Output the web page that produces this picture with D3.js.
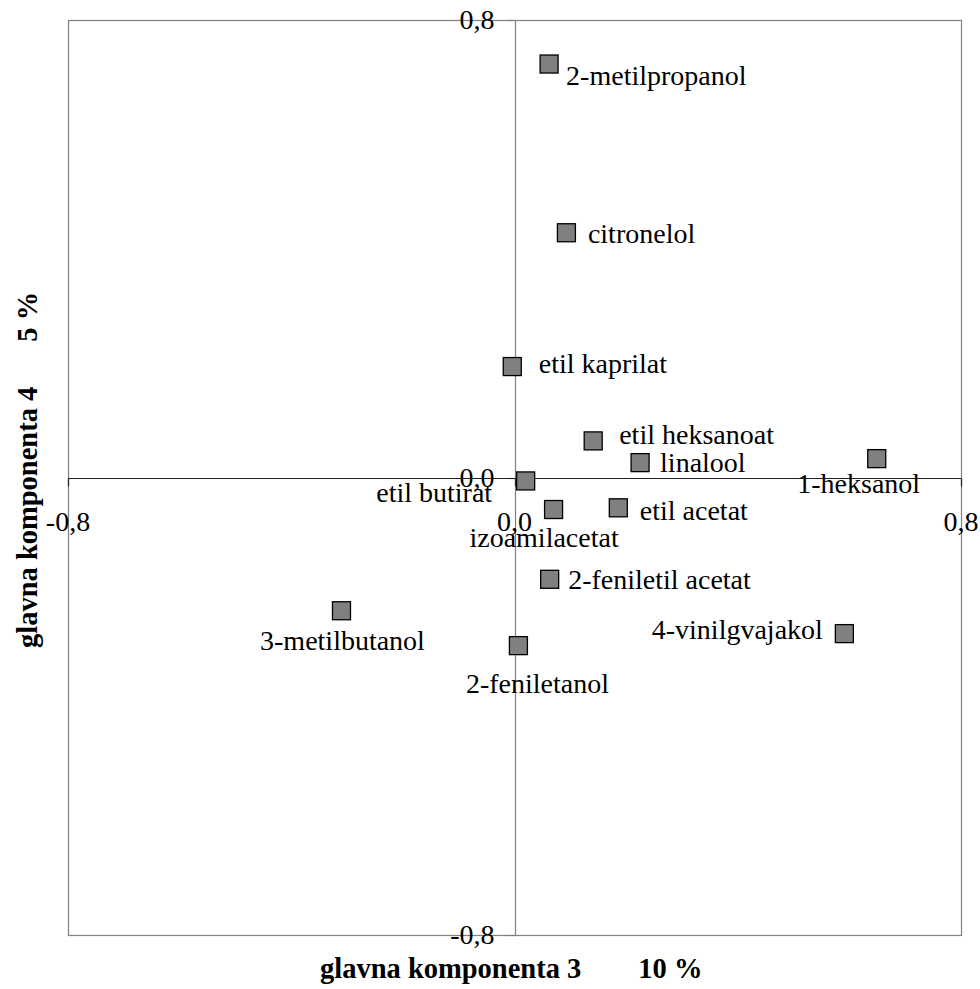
<!DOCTYPE html>
<html>
<head>
<meta charset="utf-8">
<script src="https://cdn.jsdelivr.net/npm/d3@7"></script>
<style>
  html, body { margin: 0; padding: 0; background: #ffffff; }
  svg { display: block; }
  text { font-family: "Liberation Serif", "Times New Roman", "DejaVu Serif", serif; fill: #000; }
</style>
</head>
<body>
<svg id="chart" width="980" height="989"></svg>
<script>
// ---- data ----
const compounds = ["2-metilpropanol", "citronelol", "etil kaprilat", "etil heksanoat", "linalool",
  "1-heksanol", "etil butirat", "izoamilacetat", "etil acetat", "2-feniletil acetat",
  "3-metilbutanol", "2-feniletanol", "4-vinilgvajakol"];
const pc3Values = [0.062, 0.093, -0.004, 0.141, 0.225, 0.649, 0.020, 0.070, 0.186, 0.063, -0.310, 0.007, 0.591];
const pc4Values = [0.723, 0.428, 0.194, 0.064, 0.026, 0.033, -0.006, -0.056, -0.053, -0.178, -0.233, -0.294, -0.273];
const xTickValues = [-0.8, 0.0, 0.8];
const yTickValues = [-0.8, 0.0, 0.8];
const xTitle = ["glavna komponenta 3", "10 %"];
const yTitle = ["glavna komponenta 4", "5 %"];

// ---- layout (label placement relative to marker) ----
const labelLayout = [
  { anchor: "start",  dx: 17,   dy: 21 },
  { anchor: "start",  dx: 21.5, dy: 10.5 },
  { anchor: "start",  dx: 26.5, dy: 6.5 },
  { anchor: "start",  dx: 26,   dy: 3 },
  { anchor: "start",  dx: 20,   dy: 9 },
  { anchor: "middle", dx: -18,  dy: 34 },
  { anchor: "end",    dx: -33.5,dy: 20.7 },
  { anchor: "middle", dx: -9.5, dy: 37.5 },
  { anchor: "start",  dx: 21.5, dy: 12.5 },
  { anchor: "start",  dx: 18.5, dy: 9.5 },
  { anchor: "middle", dx: 1,    dy: 39 },
  { anchor: "middle", dx: 19,   dy: 47.5 },
  { anchor: "end",    dx: -21.5,dy: 5.5 }
];

const points = compounds.map((name, i) => ({ name, x: pc3Values[i], y: pc4Values[i], lab: labelLayout[i] }));

const svg = d3.select("#chart");
const L = 68, R = 961, T = 20, B = 935;
const x = d3.scaleLinear().domain([-0.8, 0.8]).range([L, R]);
const y = d3.scaleLinear().domain([-0.8, 0.8]).range([B, T]);
const fmt = v => d3.format(".1f")(v).replace(".", ",").replace("−", "-");
const FS = 28;

// plot border
svg.append("rect").attr("x", L + 0.5).attr("y", T + 0.5)
  .attr("width", R - L).attr("height", B - T)
  .attr("fill", "none").attr("stroke", "#808080").attr("stroke-width", 1.2);

const x0 = Math.round(x(0)) + 0.5, y0 = Math.round(y(0)) + 0.5;

// vertical zero axis (gray) with ticks to the left
svg.append("line").attr("x1", x0).attr("x2", x0).attr("y1", T).attr("y2", B)
  .attr("stroke", "#808080").attr("stroke-width", 1.2);
const yAxisG = svg.append("g").attr("transform", `translate(${x0},0)`);
yAxisG.selectAll("line.tick").data(yTickValues).join("line")
  .attr("x1", -9).attr("x2", 0)
  .attr("y1", d => Math.round(y(d)) + 0.5).attr("y2", d => Math.round(y(d)) + 0.5)
  .attr("stroke", "#808080").attr("stroke-width", 1.2);
yAxisG.selectAll("text").data(yTickValues).join("text")
  .attr("x", -21).attr("y", d => y(d) + 9)
  .attr("text-anchor", "end").attr("font-size", FS)
  .text(d => fmt(d));

// horizontal zero axis (dark) with ticks below
svg.append("line").attr("x1", L).attr("x2", R).attr("y1", y0).attr("y2", y0)
  .attr("stroke", "#202020").attr("stroke-width", 1.2);
const xAxisG = svg.append("g").attr("transform", `translate(0,${y0})`);
xAxisG.selectAll("line.tick").data(xTickValues).join("line")
  .attr("x1", d => Math.round(x(d)) + 0.5).attr("x2", d => Math.round(x(d)) + 0.5)
  .attr("y1", 0).attr("y2", 8)
  .attr("stroke", "#202020").attr("stroke-width", 1.2);
xAxisG.selectAll("text").data(xTickValues).join("text")
  .attr("x", d => x(d)).attr("y", 52)
  .attr("text-anchor", "middle").attr("font-size", FS)
  .text(d => fmt(d));

// markers
const S = 18;
svg.append("g").selectAll("rect").data(points).join("rect")
  .attr("x", d => x(d.x) - S / 2).attr("y", d => y(d.y) - S / 2)
  .attr("width", S).attr("height", S)
  .attr("fill", "#808080").attr("stroke", "#000").attr("stroke-width", 1.3);

// data labels
svg.append("g").selectAll("text").data(points).join("text")
  .attr("x", d => x(d.x) + d.lab.dx).attr("y", d => y(d.y) + d.lab.dy)
  .attr("text-anchor", d => d.lab.anchor).attr("font-size", FS)
  .text(d => d.name);

// axis titles
const xt = svg.append("text").attr("x", 320).attr("y", 978)
  .attr("font-size", 28.5).attr("font-weight", "bold");
xt.append("tspan").text(xTitle[0]);
xt.append("tspan").attr("dx", 57).text(xTitle[1]);

const yt = svg.append("text").attr("transform", "translate(37,648) rotate(-90)")
  .attr("font-size", 28.5).attr("font-weight", "bold");
yt.append("tspan").text(yTitle[0]);
yt.append("tspan").attr("dx", 45).text(yTitle[1]);
</script>
</body>
</html>
